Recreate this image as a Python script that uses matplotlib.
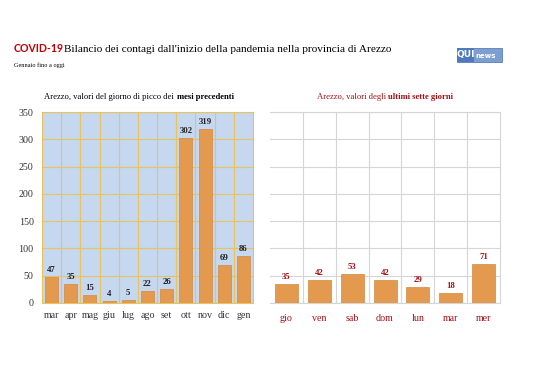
import numpy as np
import matplotlib.pyplot as plt
from matplotlib.patches import Rectangle
from matplotlib.ticker import MultipleLocator, FixedLocator

months = ['mar', 'apr', 'mag', 'giu', 'lug', 'ago', 'set', 'ott', 'nov', 'dic', 'gen']
peak = [47, 35, 15, 4, 5, 22, 26, 302, 319, 69, 86]
days = ['gio', 'ven', 'sab', 'dom', 'lun', 'mar', 'mer']
last7 = [35, 42, 53, 42, 29, 18, 71]

serif = 'Liberation Serif'
orange = '#E39A4E'
darkred = '#A50F15'

fig = plt.figure(figsize=(5.38, 3.80), dpi=100)
fig.patch.set_facecolor('white')

W, H = 538, 380


def two_part_title(xc, y, plain, bold, color):
    # plain text followed by bold text, centred as a whole on xc
    t1 = fig.text(0, y, plain, fontsize=6.2, family=serif, color=color, va='center')
    t2 = fig.text(0, y, bold, fontsize=6.2, family=serif, color=color, va='center',
                  fontweight='bold')
    r = fig.canvas.get_renderer()
    w1 = t1.get_window_extent(r).width / fig.bbox.width
    w2 = t2.get_window_extent(r).width / fig.bbox.width
    x0 = xc - (w1 + w2) / 2
    t1.set_x(x0)
    t2.set_x(x0 + w1)


# titles
fig.text(14/W, 1-49/H, 'COVID-19', color='#C00000', fontsize=7.6, fontweight='bold',
         family='Lato', va='center')
fig.text(64/W, 1-49/H, "Bilancio dei contagi dall'inizio della pandemia nella provincia di Arezzo",
         fontsize=8.1, family=serif, va='center')
fig.text(14/W, 1-65/H, 'Gennaio fino a oggi', fontsize=4.5, family=serif, va='center')

# logo
fig.patches.append(Rectangle((457/W, 1-62/H), 45/W, 14/H, transform=fig.transFigure,
                             fc='#7C9ED0', ec='#5A7FB8', lw=0.6))
fig.patches.append(Rectangle((457/W, 1-62/H), 17/W, 14/H, transform=fig.transFigure,
                             fc='#4E79BE', ec='none'))
fig.text(465.5/W, 1-55/H, 'QUI', color='white', fontsize=6.5, fontweight='bold',
         family='DejaVu Sans', ha='center', va='center')
fig.text(475/W, 1-55.5/H, 'news', color='white', fontsize=5, fontweight='bold',
         family='DejaVu Sans', va='center')

# panel titles
two_part_title(139/W, 1-97/H, 'Arezzo, valori del giorno di picco dei ', 'mesi precedenti', 'black')
two_part_title(385/W, 1-97/H, 'Arezzo, valori degli ', 'ultimi sette giorni', darkred)

# left chart
ax1 = fig.add_axes([42/W, 1-303/H, 211/W, 191/H])
x1 = np.arange(len(months))
ax1.set_facecolor('#C6D8F0')
ax1.bar(x1, peak, width=0.68, color=orange, edgecolor='#D08A40', linewidth=0.5, zorder=3)
for xi, v in zip(x1, peak):
    ax1.text(xi, v + 6, str(v), ha='center', va='bottom', fontsize=6.3, fontweight='bold',
             family=serif, color='#222222')
ax1.set_xlim(-0.5, len(months) - 0.5)
ax1.set_ylim(0, 350)
ax1.yaxis.set_major_locator(MultipleLocator(50))
ax1.set_xticks(x1)
ax1.set_xticklabels(months)
ax1.xaxis.set_minor_locator(FixedLocator(x1[:-1] + 0.5))
ax1.grid(axis='y', which='major', color='#E8C45A', linewidth=0.8, zorder=0)
ax1.grid(axis='x', which='minor', color='#E8C45A', linewidth=0.8, zorder=0)
ax1.tick_params(length=0, which='both', labelsize=7.2, pad=6)
for lab in ax1.get_xticklabels() + ax1.get_yticklabels():
    lab.set_family(serif)
    lab.set_color('#333333')
for s in ax1.spines.values():
    s.set_color('#E8C45A')
    s.set_linewidth(0.8)
ax1.set_axisbelow(True)

# right chart
ax2 = fig.add_axes([270/W, 1-303/H, 230/W, 191/H])
x2 = np.arange(len(days))
ax2.bar(x2, last7, width=0.7, color=orange, edgecolor='#D08A40', linewidth=0.5, zorder=3)
for xi, v in zip(x2, last7):
    ax2.text(xi, v + 6, str(v), ha='center', va='bottom', fontsize=6.3, fontweight='bold',
             family=serif, color=darkred)
ax2.set_xlim(-0.5, len(days) - 0.5)
ax2.set_ylim(0, 350)
ax2.yaxis.set_major_locator(MultipleLocator(50))
ax2.set_yticklabels([])
ax2.set_xticks(x2)
ax2.set_xticklabels(days)
ax2.xaxis.set_minor_locator(FixedLocator(x2[:-1] + 0.5))
ax2.grid(axis='y', which='major', color='#D6D6D6', linewidth=0.8, zorder=0)
ax2.grid(axis='x', which='minor', color='#D6D6D6', linewidth=0.8, zorder=0)
ax2.tick_params(length=0, which='both', labelsize=7.2, pad=8)
for lab in ax2.get_xticklabels():
    lab.set_family(serif)
    lab.set_color(darkred)
for s in ax2.spines.values():
    s.set_color('#D6D6D6')
    s.set_linewidth(0.8)
ax2.spines['left'].set_visible(False)
ax2.set_axisbelow(True)

fig.savefig('out.png', dpi=100)
